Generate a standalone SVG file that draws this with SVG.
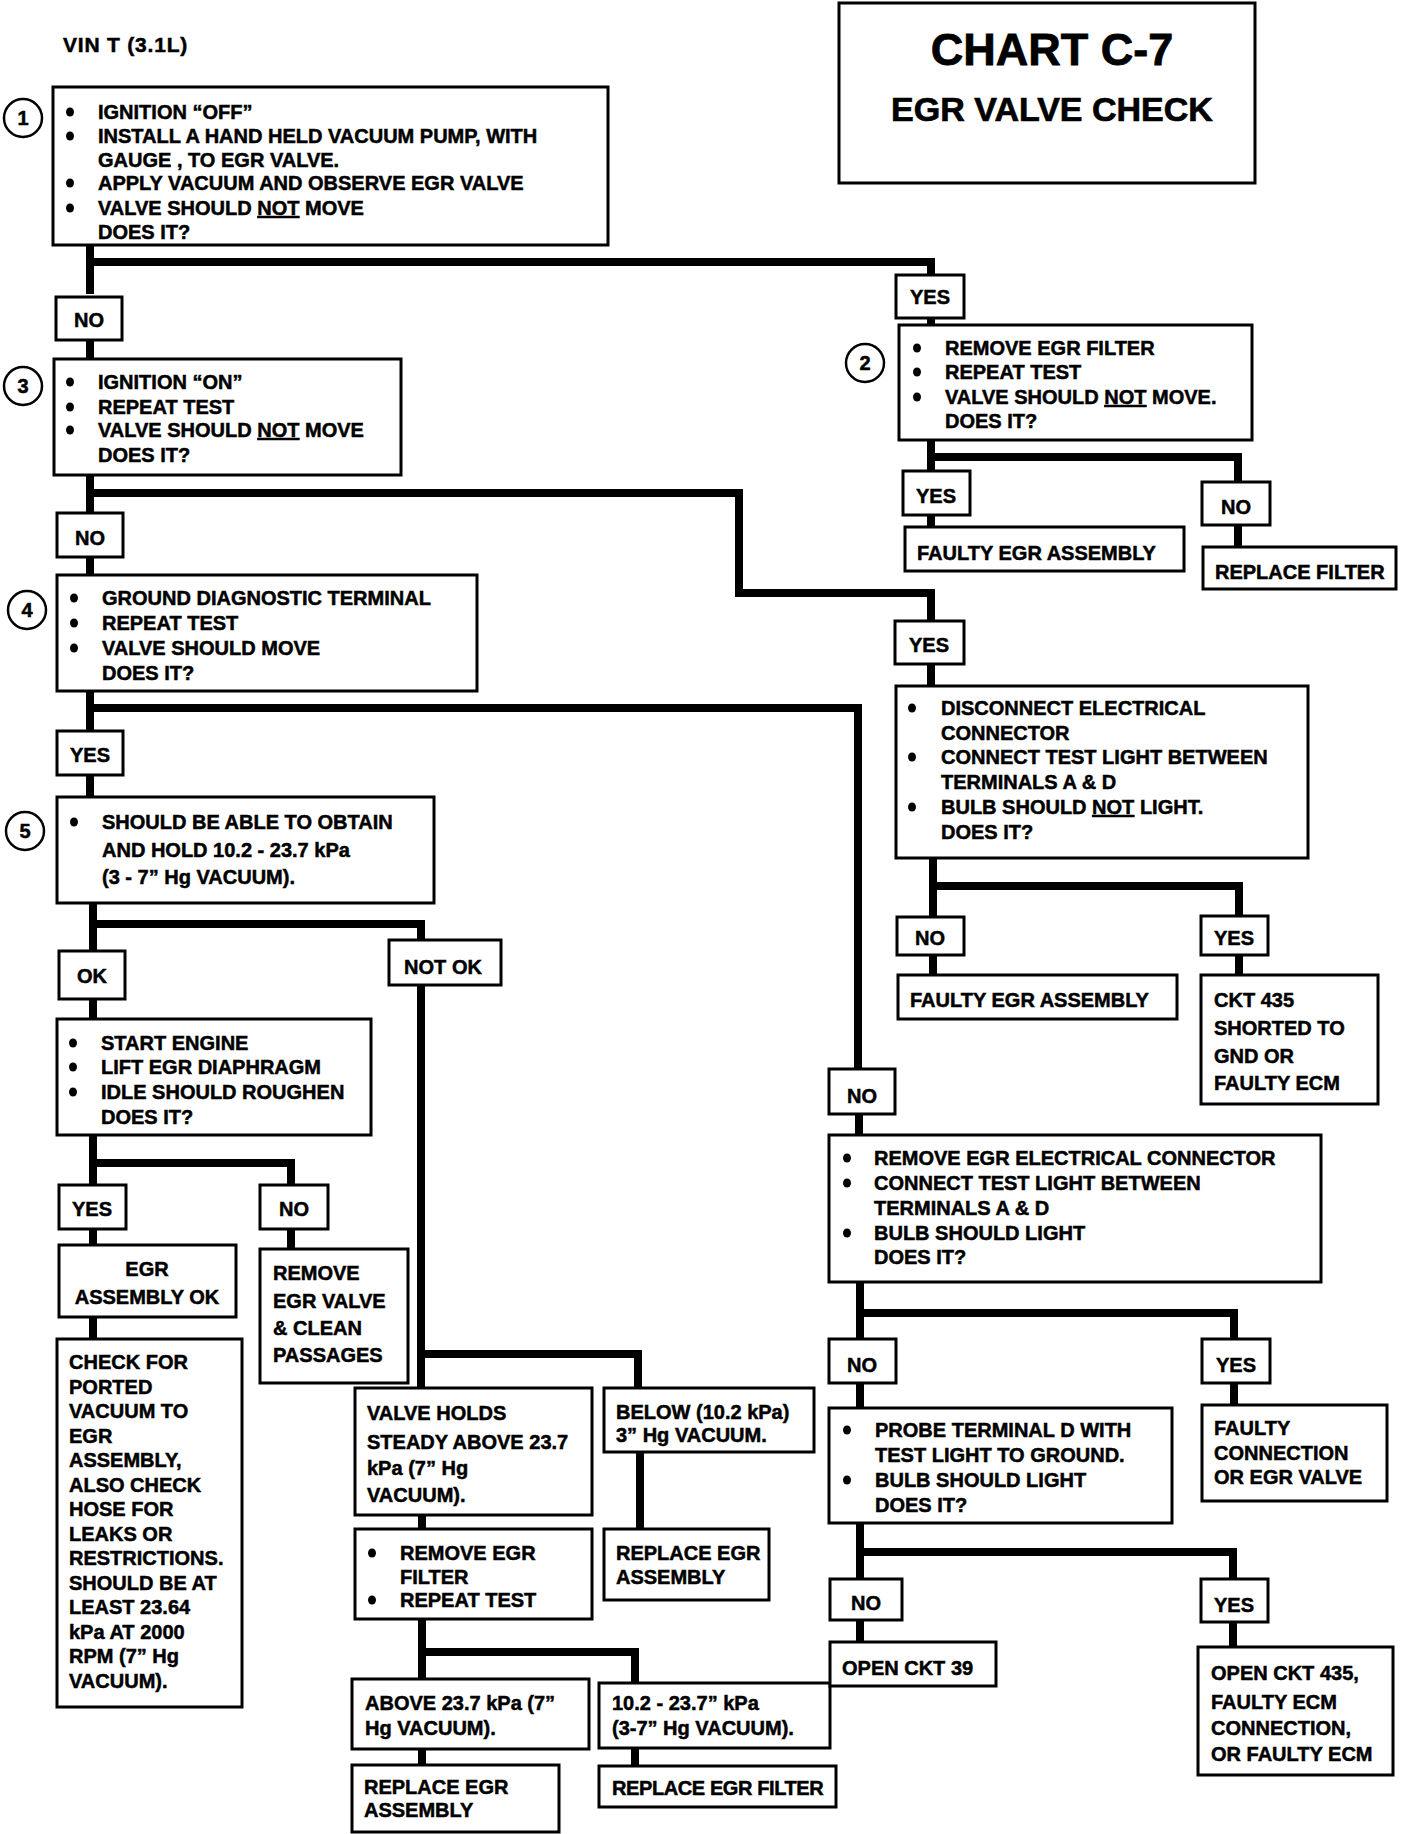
<svg xmlns="http://www.w3.org/2000/svg" width="1408" height="1834" viewBox="0 0 1408 1834">
<defs>
<ellipse id="dot" cx="0" cy="0" rx="4" ry="4.6" fill="#000"/>
</defs>
<style>
text{font-family:"Liberation Sans",Arial,Helvetica,sans-serif;font-weight:bold;font-size:20px;fill:#000;stroke:#000;stroke-width:0.5}
.box{fill:#fff;stroke:#000;stroke-width:3}
.conn path{fill:none;stroke:#000;stroke-width:8;stroke-linejoin:miter;stroke-linecap:butt}
.num{fill:#fff;stroke:#000;stroke-width:2.5}
.c{text-anchor:middle}
.u{text-decoration:underline}
.t1{font-size:45px;text-anchor:middle;stroke-width:0.8}
.t2{font-size:34px;text-anchor:middle;stroke-width:0.7}
.vin{font-size:21px;letter-spacing:0.8px}
.nar{letter-spacing:-0.4px}
</style>
<rect width="1408" height="1834" fill="#fff"/>

<g id="connectors" class="conn">
<path d="M90 245 V294"/>
<path d="M90 262 H931 V275"/>
<path d="M90 341 V359"/>
<path d="M931 318 V325"/>
<path d="M931 440 V471"/>
<path d="M931 457 H1238 V482"/>
<path d="M931 515 V527"/>
<path d="M1238 525 V547"/>
<path d="M90 475 V513"/>
<path d="M90 493 H739 V593 H931 V621"/>
<path d="M90 557 V575"/>
<path d="M931 664 V686"/>
<path d="M90 691 V731"/>
<path d="M90 708 H858 V1069"/>
<path d="M90 775 V797"/>
<path d="M933 858 V917"/>
<path d="M933 886 H1239 V916"/>
<path d="M933 955 V975"/>
<path d="M1239 955 V975"/>
<path d="M859 1114 V1135"/>
<path d="M860 1282 V1339"/>
<path d="M860 1313 H1234 V1339"/>
<path d="M860 1383 V1408"/>
<path d="M1234 1383 V1405"/>
<path d="M860 1523 V1579"/>
<path d="M860 1552 H1233 V1579"/>
<path d="M860 1620 V1642"/>
<path d="M1233 1622 V1647"/>
<path d="M93 903 V951"/>
<path d="M93 924 H421 V940"/>
<path d="M93 999 V1019"/>
<path d="M421 985 V1388"/>
<path d="M421 1354 H638 V1388"/>
<path d="M93 1135 V1185"/>
<path d="M93 1163 H291 V1185"/>
<path d="M93 1229 V1245"/>
<path d="M291 1229 V1249"/>
<path d="M93 1317 V1339"/>
<path d="M422 1515 V1529"/>
<path d="M422 1619 V1679"/>
<path d="M422 1652 H635 V1683"/>
<path d="M422 1749 V1765"/>
<path d="M635 1748 V1766"/>
<path d="M640 1452 V1529"/>
</g>

<g id="vin"><text class="vin" x="63" y="52">VIN T (3.1L)</text></g>

<g id="title">
<rect class="box" x="839" y="3" width="416" height="180"/>
<text class="t1" x="1052" y="65">CHART C-7</text>
<text class="t2" x="1052" y="121">EGR VALVE CHECK</text>
</g>

<g id="n1">
<circle class="num" cx="23" cy="118" r="19"/>
<text class="c" x="23" y="125">1</text>
<rect class="box" x="53" y="87" width="555" height="158"/>
<use href="#dot" x="70" y="112"/><use href="#dot" x="70" y="136"/><use href="#dot" x="70" y="183"/><use href="#dot" x="70" y="208"/>
<text><tspan x="98" y="119">IGNITION “OFF”</tspan><tspan x="98" y="143">INSTALL A HAND HELD VACUUM PUMP, WITH</tspan><tspan x="98" y="167">GAUGE , TO EGR VALVE.</tspan><tspan x="98" y="190">APPLY VACUUM AND OBSERVE EGR VALVE</tspan><tspan x="98" y="215">VALVE SHOULD <tspan class="u">NOT</tspan> MOVE</tspan><tspan x="98" y="239">DOES IT?</tspan></text>
</g>

<g id="l1no"><rect class="box" x="56" y="297" width="66" height="43"/><text class="c" x="89" y="327">NO</text></g>

<g id="n3">
<circle class="num" cx="23" cy="386" r="19"/>
<text class="c" x="23" y="393">3</text>
<rect class="box" x="54" y="359" width="347" height="116"/>
<use href="#dot" x="70" y="382"/><use href="#dot" x="70" y="407"/><use href="#dot" x="70" y="430"/>
<text><tspan x="98" y="389">IGNITION “ON”</tspan><tspan x="98" y="414">REPEAT TEST</tspan><tspan x="98" y="437">VALVE SHOULD <tspan class="u">NOT</tspan> MOVE</tspan><tspan x="98" y="462">DOES IT?</tspan></text>
</g>

<g id="l3no"><rect class="box" x="57" y="513" width="66" height="44"/><text class="c" x="90" y="545">NO</text></g>

<g id="n4">
<circle class="num" cx="27" cy="610" r="19"/>
<text class="c" x="27" y="617">4</text>
<rect class="box" x="57" y="575" width="420" height="116"/>
<use href="#dot" x="74" y="598"/><use href="#dot" x="74" y="623"/><use href="#dot" x="74" y="648"/>
<text><tspan x="102" y="605">GROUND DIAGNOSTIC TERMINAL</tspan><tspan x="102" y="630">REPEAT TEST</tspan><tspan x="102" y="655">VALVE SHOULD MOVE</tspan><tspan x="102" y="680">DOES IT?</tspan></text>
</g>

<g id="l4yes"><rect class="box" x="57" y="731" width="66" height="44"/><text class="c" x="90" y="762">YES</text></g>

<g id="n5">
<circle class="num" cx="25" cy="831" r="19"/>
<text class="c" x="25" y="838">5</text>
<rect class="box" x="57" y="797" width="377" height="106"/>
<use href="#dot" x="74" y="822"/>
<text><tspan x="102" y="829">SHOULD BE ABLE TO OBTAIN</tspan><tspan x="102" y="857">AND HOLD 10.2 - 23.7 kPa</tspan><tspan x="102" y="884">(3 - 7” Hg VACUUM).</tspan></text>
</g>

<g id="lok"><rect class="box" x="59" y="951" width="66" height="48"/><text class="c" x="92" y="983">OK</text></g>
<g id="lnotok"><rect class="box" x="389" y="940" width="112" height="45"/><text class="c" x="443" y="974">NOT OK</text></g>

<g id="n6">
<rect class="box" x="57" y="1019" width="314" height="116"/>
<use href="#dot" x="73" y="1043"/><use href="#dot" x="73" y="1067"/><use href="#dot" x="73" y="1092"/>
<text><tspan x="101" y="1050">START ENGINE</tspan><tspan x="101" y="1074">LIFT EGR DIAPHRAGM</tspan><tspan x="101" y="1099">IDLE SHOULD ROUGHEN</tspan><tspan x="101" y="1124">DOES IT?</tspan></text>
</g>

<g id="l6yes"><rect class="box" x="59" y="1185" width="67" height="44"/><text class="c" x="92" y="1216">YES</text></g>
<g id="l6no"><rect class="box" x="260" y="1185" width="68" height="44"/><text class="c" x="294" y="1216">NO</text></g>

<g id="n7">
<rect class="box" x="59" y="1245" width="177" height="72"/>
<text class="c"><tspan x="147" y="1276">EGR</tspan><tspan x="147" y="1304">ASSEMBLY OK</tspan></text>
</g>

<g id="n8">
<rect class="box" x="260" y="1249" width="148" height="134"/>
<text><tspan x="273" y="1280">REMOVE</tspan><tspan x="273" y="1308">EGR VALVE</tspan><tspan x="273" y="1335">&amp; CLEAN</tspan><tspan x="273" y="1362">PASSAGES</tspan></text>
</g>

<g id="n9">
<rect class="box" x="57" y="1339" width="185" height="368"/>
<text><tspan x="69" y="1369">CHECK FOR</tspan><tspan x="69" y="1393.5">PORTED</tspan><tspan x="69" y="1418">VACUUM TO</tspan><tspan x="69" y="1442.5">EGR</tspan><tspan x="69" y="1467">ASSEMBLY,</tspan><tspan x="69" y="1491.5">ALSO CHECK</tspan><tspan x="69" y="1516">HOSE FOR</tspan><tspan x="69" y="1540.5">LEAKS OR</tspan><tspan x="69" y="1565">RESTRICTIONS.</tspan><tspan x="69" y="1589.5">SHOULD BE AT</tspan><tspan x="69" y="1614">LEAST 23.64</tspan><tspan x="69" y="1638.5">kPa AT 2000</tspan><tspan x="69" y="1663">RPM (7” Hg</tspan><tspan x="69" y="1687.5">VACUUM).</tspan></text>
</g>

<g id="n10">
<rect class="box" x="355" y="1388" width="237" height="127"/>
<text><tspan x="367" y="1420">VALVE HOLDS</tspan><tspan x="367" y="1449">STEADY ABOVE 23.7</tspan><tspan x="367" y="1475">kPa (7” Hg</tspan><tspan x="367" y="1502">VACUUM).</tspan></text>
</g>

<g id="n11">
<rect class="box" x="604" y="1388" width="210" height="64"/>
<text><tspan x="616" y="1419">BELOW (10.2 kPa)</tspan><tspan x="616" y="1442">3” Hg VACUUM.</tspan></text>
</g>

<g id="n12">
<rect class="box" x="355" y="1529" width="237" height="90"/>
<use href="#dot" x="372" y="1553"/><use href="#dot" x="372" y="1600"/>
<text><tspan x="400" y="1560">REMOVE EGR</tspan><tspan x="400" y="1584">FILTER</tspan><tspan x="400" y="1607">REPEAT TEST</tspan></text>
</g>

<g id="n13">
<rect class="box" x="604" y="1529" width="165" height="71"/>
<text><tspan x="616" y="1560">REPLACE EGR</tspan><tspan x="616" y="1584">ASSEMBLY</tspan></text>
</g>

<g id="n14">
<rect class="box" x="352" y="1679" width="237" height="70"/>
<text><tspan x="365" y="1710">ABOVE 23.7 kPa (7”</tspan><tspan x="365" y="1735">Hg VACUUM).</tspan></text>
</g>

<g id="n15">
<rect class="box" x="599" y="1683" width="231" height="65"/>
<text><tspan x="612" y="1710">10.2 - 23.7” kPa</tspan><tspan x="612" y="1735">(3-7” Hg VACUUM).</tspan></text>
</g>

<g id="n16">
<rect class="box" x="352" y="1765" width="207" height="67"/>
<text><tspan x="364" y="1794">REPLACE EGR</tspan><tspan x="364" y="1817">ASSEMBLY</tspan></text>
</g>

<g id="n17">
<rect class="box" x="599" y="1766" width="237" height="41"/>
<text class="nar" x="612" y="1795">REPLACE EGR FILTER</text>
</g>

<g id="l1yes"><rect class="box" x="896" y="275" width="68" height="43"/><text class="c" x="930" y="304">YES</text></g>

<g id="n2">
<circle class="num" cx="865" cy="363" r="19"/>
<text class="c" x="865" y="370">2</text>
<rect class="box" x="899" y="325" width="353" height="115"/>
<use href="#dot" x="917" y="348"/><use href="#dot" x="917" y="372"/><use href="#dot" x="917" y="397"/>
<text><tspan x="945" y="355">REMOVE EGR FILTER</tspan><tspan x="945" y="379">REPEAT TEST</tspan><tspan x="945" y="404">VALVE SHOULD <tspan class="u">NOT</tspan> MOVE.</tspan><tspan x="945" y="428">DOES IT?</tspan></text>
</g>

<g id="l2yes"><rect class="box" x="903" y="471" width="67" height="44"/><text class="c" x="936" y="503">YES</text></g>
<g id="l2no"><rect class="box" x="1202" y="482" width="68" height="43"/><text class="c" x="1236" y="514">NO</text></g>

<g id="n18">
<rect class="box" x="905" y="527" width="279" height="44"/>
<text x="917" y="560">FAULTY EGR ASSEMBLY</text>
</g>

<g id="n19">
<rect class="box" x="1203" y="547" width="193" height="42"/>
<text x="1215" y="579">REPLACE FILTER</text>
</g>

<g id="l3yes"><rect class="box" x="895" y="621" width="69" height="43"/><text class="c" x="929" y="652">YES</text></g>

<g id="n20">
<rect class="box" x="896" y="686" width="412" height="172"/>
<use href="#dot" x="912" y="708"/><use href="#dot" x="912" y="757"/><use href="#dot" x="912" y="807"/>
<text><tspan x="941" y="715">DISCONNECT ELECTRICAL</tspan><tspan x="941" y="740">CONNECTOR</tspan><tspan x="941" y="764">CONNECT TEST LIGHT BETWEEN</tspan><tspan x="941" y="789">TERMINALS A &amp; D</tspan><tspan x="941" y="814">BULB SHOULD <tspan class="u">NOT</tspan> LIGHT.</tspan><tspan x="941" y="839">DOES IT?</tspan></text>
</g>

<g id="l20no"><rect class="box" x="897" y="917" width="67" height="38"/><text class="c" x="930" y="945">NO</text></g>
<g id="l20yes"><rect class="box" x="1201" y="916" width="67" height="39"/><text class="c" x="1234" y="945">YES</text></g>

<g id="n21">
<rect class="box" x="898" y="975" width="279" height="44"/>
<text x="910" y="1007">FAULTY EGR ASSEMBLY</text>
</g>

<g id="n22">
<rect class="box" x="1201" y="975" width="177" height="129"/>
<text><tspan x="1214" y="1007">CKT 435</tspan><tspan x="1214" y="1035">SHORTED TO</tspan><tspan x="1214" y="1063">GND OR</tspan><tspan x="1214" y="1090">FAULTY ECM</tspan></text>
</g>

<g id="l4no"><rect class="box" x="829" y="1069" width="66" height="45"/><text class="c" x="862" y="1103">NO</text></g>

<g id="n23">
<rect class="box" x="829" y="1135" width="492" height="147"/>
<use href="#dot" x="847" y="1158"/><use href="#dot" x="847" y="1183"/><use href="#dot" x="847" y="1233"/>
<text><tspan x="874" y="1165">REMOVE EGR ELECTRICAL CONNECTOR</tspan><tspan x="874" y="1190">CONNECT TEST LIGHT BETWEEN</tspan><tspan x="874" y="1215">TERMINALS A &amp; D</tspan><tspan x="874" y="1240">BULB SHOULD LIGHT</tspan><tspan x="874" y="1264">DOES IT?</tspan></text>
</g>

<g id="l23no"><rect class="box" x="829" y="1339" width="67" height="44"/><text class="c" x="862" y="1372">NO</text></g>
<g id="l23yes"><rect class="box" x="1202" y="1339" width="68" height="44"/><text class="c" x="1236" y="1372">YES</text></g>

<g id="n24">
<rect class="box" x="829" y="1408" width="343" height="115"/>
<use href="#dot" x="847" y="1430"/><use href="#dot" x="847" y="1480"/>
<text><tspan x="875" y="1437">PROBE TERMINAL D WITH</tspan><tspan x="875" y="1462">TEST LIGHT TO GROUND.</tspan><tspan x="875" y="1487">BULB SHOULD LIGHT</tspan><tspan x="875" y="1512">DOES IT?</tspan></text>
</g>

<g id="n25">
<rect class="box" x="1202" y="1405" width="185" height="96"/>
<text><tspan x="1214" y="1435">FAULTY</tspan><tspan x="1214" y="1460">CONNECTION</tspan><tspan x="1214" y="1484">OR EGR VALVE</tspan></text>
</g>

<g id="l24no"><rect class="box" x="830" y="1579" width="72" height="41"/><text class="c" x="866" y="1610">NO</text></g>
<g id="l24yes"><rect class="box" x="1201" y="1579" width="67" height="43"/><text class="c" x="1234" y="1612">YES</text></g>

<g id="n26">
<rect class="box" x="830" y="1642" width="166" height="44"/>
<text x="842" y="1675">OPEN CKT 39</text>
</g>

<g id="n27">
<rect class="box" x="1198" y="1647" width="195" height="128"/>
<text><tspan x="1211" y="1680">OPEN CKT 435,</tspan><tspan x="1211" y="1709">FAULTY ECM</tspan><tspan x="1211" y="1735">CONNECTION,</tspan><tspan x="1211" y="1761">OR FAULTY ECM</tspan></text>
</g>
</svg>
